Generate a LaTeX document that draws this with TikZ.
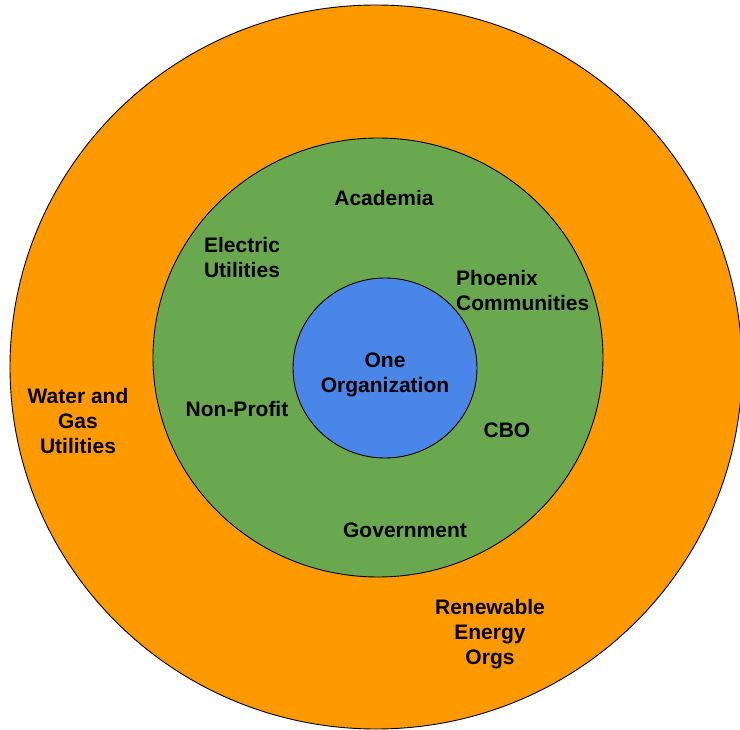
\documentclass[tikz,border=0pt]{standalone}
\usepackage{fontspec}
\setmainfont{Liberation Sans}
\usetikzlibrary{shapes.geometric}
\usetikzlibrary{positioning}
\definecolor{ringorange}{HTML}{FF9900}
\definecolor{ringgreen}{HTML}{6AA84F}
\definecolor{ringblue}{HTML}{4A86E8}
\tikzset{ring/.style={ellipse,draw=black,line width=0.9pt,inner sep=0pt},label text/.style={font=\bfseries\fontsize{21}{25}\selectfont,align=center,inner sep=0pt}}
\begin{document}
\begin{tikzpicture}[x=1pt,y=-1pt]
\useasboundingbox (0,0) rectangle (740,730);
\node (outer) at (376,367) [ring, fill=ringorange, minimum width=732pt, minimum height=724pt] {};
\node (middle) at (378,357.5) [ring, fill=ringgreen, minimum width=450pt, minimum height=439pt] {};
\node (inner) at (385,368) [ring, fill=ringblue, minimum width=184pt, minimum height=180pt] {};
\node (org) at (385,375) [label text] {One\\Organization};
\node (academia) at (384,198) [label text] {Academia};
\node (electric) at (242,257) [label text] {Electric\\Utilities};
\node (phoenix) at (456,290) [label text, anchor=west, align=left] {Phoenix\\Communities};
\node (nonprofit) at (237,409) [label text] {Non-Profit};
\node (cbo) at (507,430) [label text] {CBO};
\node (gov) at (405,530) [label text] {Government};
\node (water) at (78,421) [label text] {Water and\\Gas\\Utilities};
\node (renew) at (490,634) [label text] {Renewable\\Energy\\Orgs};
\end{tikzpicture}
\end{document}
